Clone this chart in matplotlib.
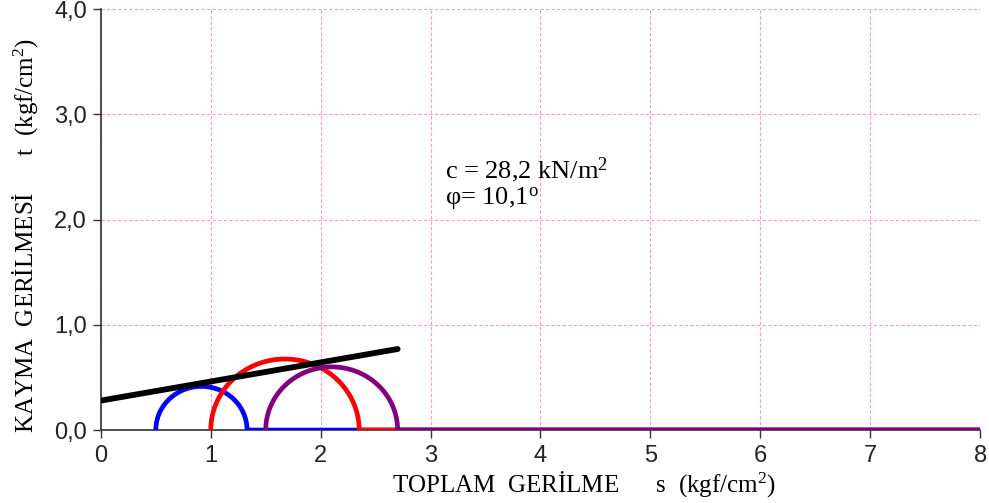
import matplotlib.pyplot as plt
import numpy as np

plt.rcParams["mathtext.fontset"] = "custom"
plt.rcParams["mathtext.rm"] = "Liberation Serif"
plt.rcParams["mathtext.it"] = "Liberation Serif:italic"

# Mohr circles: minor and major principal stresses (kgf/cm2)
sigma3 = [0.5, 1.0, 1.5]
sigma1 = [1.33, 2.35, 2.7]
colors = ["#0000ff", "#ff0000", "#800080"]

# failure envelope end points
env_x = [0.0, 2.7]
env_y = [0.28, 0.77]

x_ticks = [0, 1, 2, 3, 4, 5, 6, 7, 8]
y_ticks = [0.0, 1.0, 2.0, 3.0, 4.0]

fig = plt.figure(figsize=(9.89, 5.03), dpi=100)
ax = fig.add_axes([0.102, 0.145, 0.889, 0.837])

t = np.linspace(np.pi, 0, 120)
for s3, s1, col in zip(sigma3, sigma1, colors):
    c = (s1 + s3) / 2
    r = (s1 - s3) / 2
    xs = np.concatenate([c + r * np.cos(t), [8]])
    ys = np.concatenate([r * np.sin(t), [0]])
    ax.plot(xs, ys, color=col, lw=3.4, solid_capstyle="butt", zorder=3)

ax.plot(env_x, env_y, color="black", lw=4.2, solid_capstyle="round", zorder=4)

ax.set_xlim(0, 8)
ax.set_ylim(0, 4)
ax.set_xticks(x_ticks)
ax.set_xticklabels([str(v) for v in x_ticks], family="Liberation Sans",
                   fontsize=17, color="#222222")
ax.set_yticks(y_ticks)
ax.set_yticklabels([f"{v:.1f}".replace(".", ",") for v in y_ticks],
                   family="Liberation Sans", fontsize=17, color="#222222")
ax.tick_params(direction="out", length=6, width=1, color="#333333")
ax.tick_params(axis="x", pad=5)
ax.tick_params(axis="y", pad=4)
ax.grid(True, color="#ff99cc", linestyle=(0, (3, 2)), lw=0.8)
ax.set_axisbelow(True)
for s in ["top", "right"]:
    ax.spines[s].set_visible(False)
for s in ["left", "bottom"]:
    ax.spines[s].set_color("#333333")
    ax.spines[s].set_linewidth(1.2)

ax.set_xlabel("TOPLAM  GERİLME      s  (kgf/cm$^2$)", family="Liberation Serif",
              fontsize=18)
ax.set_ylabel("KAYMA  GERİLMESİ      t  (kgf/cm$^2$)", family="Liberation Serif",
              fontsize=18)
ax.xaxis.set_label_coords(0.55, -0.092)
ax.yaxis.set_label_coords(-0.069, 0.463)

ax.text(3.13, 2.47, "c = 28,2 kN/m$^2$", family="Liberation Serif", fontsize=19,
        va="center", ha="left")
ax.text(3.13, 2.2, "φ= 10,1$^{\\rm o}$", family="Liberation Serif", fontsize=19,
        va="center", ha="left")

fig.savefig("out.png", dpi=100)
